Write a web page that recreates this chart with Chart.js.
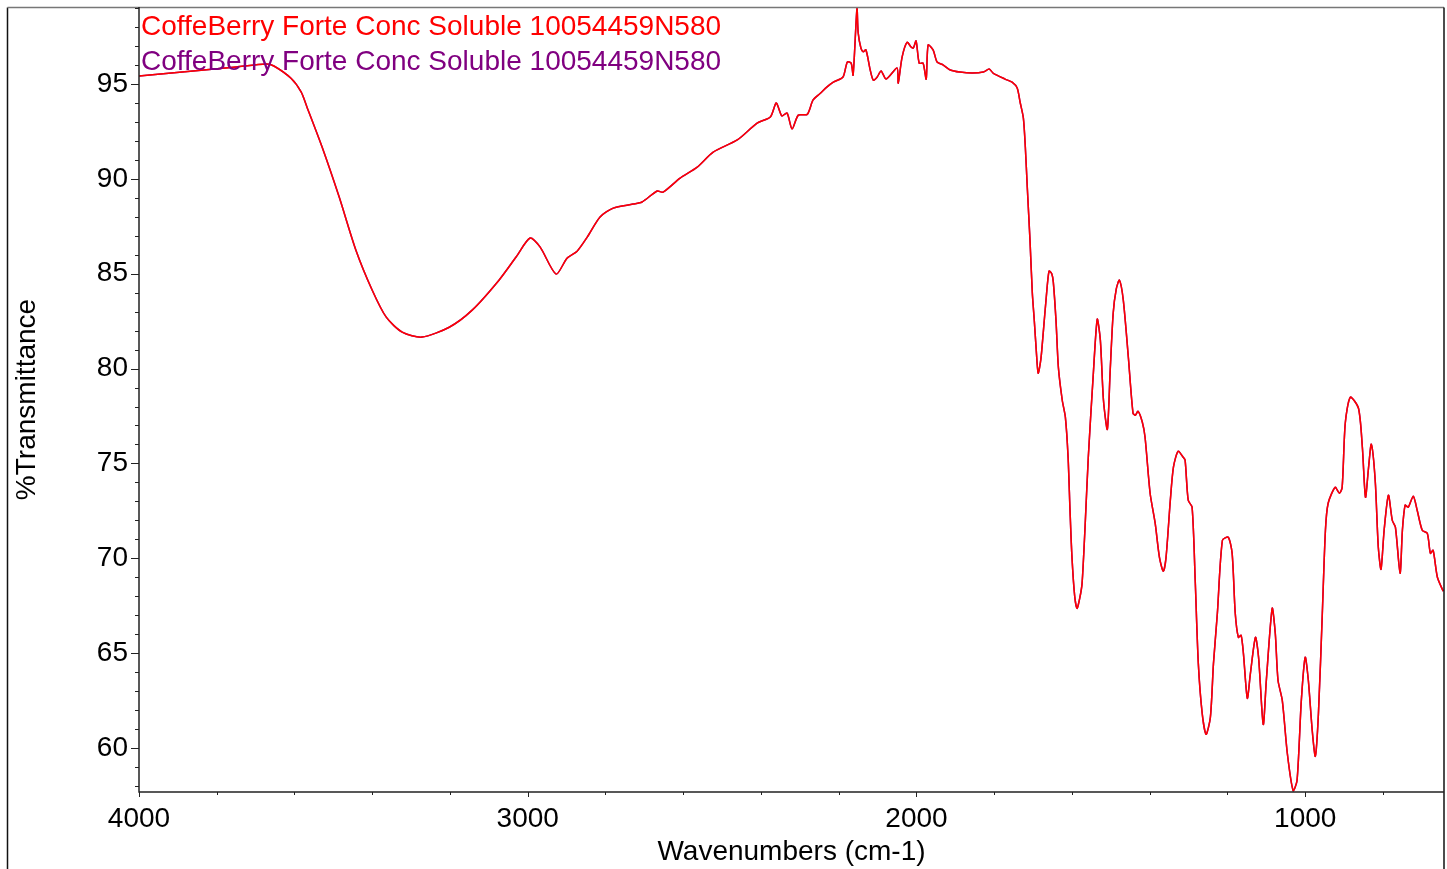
<!DOCTYPE html>
<html>
<head>
<meta charset="utf-8">
<script src="https://cdn.jsdelivr.net/npm/chart.js@4.4.1/dist/chart.umd.min.js"></script>
<style>
  html, body { margin: 0; padding: 0; background: #ffffff; }
  #wrap { width: 1447px; height: 869px; position: relative; }
</style>
</head>
<body>
<div id="wrap"><canvas id="c" width="1447" height="869"></canvas></div>
<script>
// ---- data ----
const seriesLabels = [
  "CoffeBerry Forte Conc Soluble 10054459N580",
  "CoffeBerry Forte Conc Soluble 10054459N580"
];
const seriesColors = ["#ff0000", "#800080"];

const wavenumbers = [
  4000, 3750, 3673, 3653, 3609, 3583, 3568, 3529, 3485, 3442, 3400, 3364, 3323, 3272, 3202, 3143,
  3074, 3030, 2994, 2968, 2927, 2899, 2873, 2847, 2814, 2780, 2729, 2706, 2667, 2652, 2608, 2564,
  2523, 2461, 2410, 2376, 2361, 2351, 2346, 2333, 2320, 2304, 2281, 2266, 2248, 2230, 2214, 2189,
  2178, 2168, 2163, 2153, 2150, 2143, 2137, 2130, 2119, 2111, 2101, 2091, 2078, 2050, 2047, 2037,
  2024, 2014, 2008, 2001, 1993, 1983, 1975, 1970, 1957, 1947, 1931, 1913, 1888, 1857, 1828, 1813,
  1803, 1772, 1754, 1741, 1733, 1725, 1720, 1715, 1708, 1702, 1697, 1692, 1687, 1680, 1674, 1666,
  1659, 1652, 1648, 1641, 1635, 1625, 1617, 1610, 1605, 1600, 1593, 1587, 1580, 1574, 1566, 1558,
  1545, 1535, 1527, 1519, 1509, 1502, 1494, 1486, 1478, 1468, 1455, 1443, 1437, 1430, 1419, 1412,
  1399, 1386, 1375, 1365, 1358, 1347, 1339, 1327, 1314, 1309, 1301, 1291, 1283, 1275, 1265, 1255,
  1244, 1236, 1226, 1213, 1198, 1188, 1180, 1172, 1165, 1159, 1149, 1141, 1128, 1120, 1108, 1100,
  1085, 1077, 1070, 1059, 1046, 1031, 1021, 1010, 1000, 992, 982, 974, 966, 956, 948, 941,
  923, 912, 905, 897, 884, 863, 853, 845, 837, 830, 820, 812, 805, 797, 786, 776,
  768, 756, 750, 743, 735, 722, 712, 699, 686, 678, 671, 660, 645
];
const transmittance = [
  95.42, 95.90, 96.05, 95.95, 95.30, 94.58, 93.79, 91.68, 89.04, 86.24, 84.13, 82.71, 81.92, 81.66, 82.18, 83.08,
  84.66, 85.88, 86.88, 86.40, 84.98, 85.82, 86.19, 86.93, 87.99, 88.46, 88.67, 88.78, 89.36, 89.30, 90.04, 90.62,
  91.41, 92.05, 92.94, 93.26, 94.00, 93.52, 93.31, 93.47, 92.63, 93.36, 93.40, 94.16, 94.50, 94.85, 95.10, 95.37,
  96.16, 96.10, 95.47, 99.00, 97.70, 96.90, 96.70, 96.80, 95.74, 95.20, 95.37, 95.69, 95.26, 95.84, 95.05, 96.42,
  97.20, 96.95, 96.90, 97.27, 96.10, 96.10, 95.26, 97.06, 96.79, 96.16, 96.00, 95.74, 95.63, 95.58, 95.63, 95.79,
  95.58, 95.26, 95.10, 94.79, 94.00, 93.20, 91.68, 89.57, 86.77, 83.98, 82.55, 81.00, 79.76, 80.50, 81.87, 83.80,
  85.14, 85.00, 84.56, 82.50, 80.07, 78.33, 77.44, 75.33, 72.50, 70.05, 68.00, 67.36, 67.90, 68.68, 71.80, 75.33,
  79.76, 82.60, 81.50, 78.33, 76.80, 79.76, 82.92, 84.20, 84.66, 83.61, 80.60, 77.65, 77.54, 77.75, 77.17, 76.38,
  73.43, 71.85, 70.05, 69.31, 70.05, 73.06, 74.80, 75.64, 75.33, 75.17, 73.06, 72.69, 68.84, 64.46, 61.82, 60.72,
  61.61, 64.46, 67.10, 70.95, 71.11, 70.26, 67.10, 65.83, 65.94, 64.99, 62.62, 63.93, 65.83, 64.78, 61.24, 63.57,
  67.36, 66.04, 63.57, 62.51, 59.71, 57.75, 58.29, 62.51, 64.78, 63.57, 60.93, 59.56, 61.82, 67.10, 71.48, 72.90,
  73.74, 73.43, 73.74, 77.12, 78.49, 77.91, 75.85, 73.22, 74.80, 76.01, 74.11, 70.58, 69.42, 71.48, 73.32, 72.00,
  71.64, 69.21, 71.48, 72.80, 72.69, 73.27, 72.53, 71.48, 71.32, 70.26, 70.42, 69.00, 68.26
];
// second trace is the same measurement (drawn underneath the red one)
const transmittance2 = transmittance.slice();

const xMin = 643, xMax = 4000;
const yMin = 57.68, yMax = 99.06;
const xMajorTicks = [4000, 3000, 2000, 1000];
const xMinorTicks = [3800, 3600, 3400, 3200, 2800, 2600, 2400, 2200, 1800, 1600, 1400, 1200, 800];
const yMajorTicks = [60, 65, 70, 75, 80, 85, 90, 95];
const yMinorTicks = [58, 59, 61, 62, 63, 64, 66, 67, 68, 69, 71, 72, 73, 74, 76, 77, 78, 79, 81, 82, 83, 84, 86, 87, 88, 89, 91, 92, 93, 94, 96, 97, 98, 99];

const FONT = "'Liberation Sans', Arial, Helvetica, sans-serif";

function toPoints(xs, ys) { return xs.map((x, i) => ({ x: x, y: ys[i] })); }

const framePlugin = {
  id: 'frame',
  beforeDraw(chart) {
    const ctx = chart.ctx;
    ctx.save();
    ctx.fillStyle = '#ffffff';
    ctx.fillRect(0, 0, chart.width, chart.height);
    ctx.restore();
  },
  afterDraw(chart) {
    const ctx = chart.ctx;
    const a = chart.chartArea;
    const xs = chart.scales.x, ys = chart.scales.y;
    ctx.save();
    // outer frame
    ctx.lineWidth = 1.5;
    ctx.strokeStyle = '#111111';
    ctx.beginPath();
    ctx.moveTo(7.5, chart.height); ctx.lineTo(7.5, 7.5);
    ctx.stroke();
    ctx.strokeStyle = '#777777';
    ctx.beginPath();
    ctx.moveTo(7.5, 7.5); ctx.lineTo(a.right, 7.5);
    ctx.stroke();
    ctx.strokeStyle = '#111111';
    ctx.beginPath();
    ctx.moveTo(a.right, 7.5); ctx.lineTo(a.right, chart.height);
    ctx.stroke();
    // axes lines
    ctx.strokeStyle = '#222222';
    ctx.lineWidth = 1.5;
    ctx.beginPath();
    ctx.moveTo(a.left, a.top); ctx.lineTo(a.left, a.bottom); ctx.lineTo(a.right, a.bottom);
    ctx.stroke();
    // tick marks
    ctx.lineWidth = 1;
    ctx.strokeStyle = '#222222';
    ctx.beginPath();
    xMajorTicks.forEach(v => { const p = Math.round(xs.getPixelForValue(v)) + 0.5; ctx.moveTo(p, a.bottom); ctx.lineTo(p, a.bottom + 5); });
    xMinorTicks.forEach(v => { const p = Math.round(xs.getPixelForValue(v)) + 0.5; ctx.moveTo(p, a.bottom); ctx.lineTo(p, a.bottom + 3); });
    yMajorTicks.forEach(v => { const p = Math.round(ys.getPixelForValue(v)) + 0.5; ctx.moveTo(a.left, p); ctx.lineTo(a.left - 8, p); });
    yMinorTicks.forEach(v => { const p = Math.round(ys.getPixelForValue(v)) + 0.5; ctx.moveTo(a.left, p); ctx.lineTo(a.left - 4, p); });
    ctx.stroke();
    // legend text (dataset labels)
    ctx.font = '28px ' + FONT;
    ctx.textBaseline = 'alphabetic';
    ctx.textAlign = 'left';
    chart.data.datasets.forEach((ds, i) => {
      ctx.fillStyle = ds.borderColor;
      ctx.fillText(ds.label, a.left + 2, a.top + 28 + i * 35);
    });
    ctx.restore();
  }
};

new Chart(document.getElementById('c'), {
  type: 'line',
  data: {
    datasets: [
      { label: seriesLabels[0], data: toPoints(wavenumbers, transmittance), borderColor: seriesColors[0], borderWidth: 1.5, pointRadius: 0, tension: 0.25, fill: false },
      { label: seriesLabels[1], data: toPoints(wavenumbers, transmittance2), borderColor: seriesColors[1], borderWidth: 1.5, pointRadius: 0, tension: 0.25, fill: false }
    ]
  },
  options: {
    responsive: false,
    animation: false,
    devicePixelRatio: 1,
    parsing: true,
    layout: { padding: { left: 0, top: 7, right: 3, bottom: 0 } },
    plugins: { legend: { display: false }, tooltip: { enabled: false } },
    scales: {
      x: {
        type: 'linear',
        reverse: true,
        min: xMin, max: xMax,
        afterBuildTicks: (s) => { s.ticks = xMajorTicks.map(v => ({ value: v })); },
        afterFit: (s) => { s.height = 77; s.paddingLeft = 0; s.paddingRight = 0; },
        grid: { display: false, drawTicks: false },
        border: { display: false },
        ticks: { autoSkip: false, maxRotation: 0, padding: 10, color: '#000', font: { family: FONT, size: 28 }, callback: (v) => String(v) },
        title: { display: true, text: 'Wavenumbers (cm-1)', color: '#000', font: { family: FONT, size: 28 }, padding: { top: 0, bottom: 0 } }
      },
      y: {
        type: 'linear',
        min: yMin, max: yMax,
        afterBuildTicks: (s) => { s.ticks = yMajorTicks.map(v => ({ value: v })); },
        afterFit: (s) => { s.width = 139; s.paddingTop = 0; s.paddingBottom = 0; },
        grid: { display: false, drawTicks: false },
        border: { display: false },
        ticks: { autoSkip: false, padding: 11, color: '#000', font: { family: FONT, size: 28 }, callback: (v) => String(v) },
        title: { display: true, text: '%Transmittance', color: '#000', font: { family: FONT, size: 28 }, padding: { top: 10, bottom: 0 } }
      }
    }
  },
  plugins: [framePlugin]
});
</script>
</body>
</html>
